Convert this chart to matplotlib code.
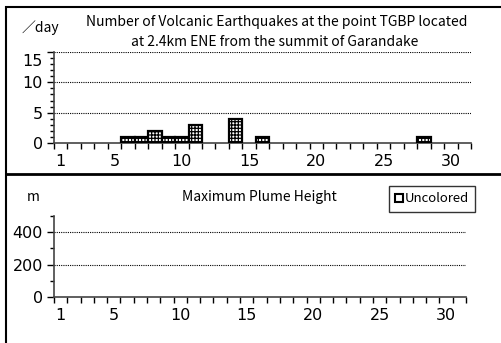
import numpy as np
import matplotlib.pyplot as plt
import matplotlib.transforms as mtransforms
from matplotlib.patches import Rectangle
from matplotlib.lines import Line2D

plt.rcParams['font.family'] = ['DejaVu Sans']
plt.rcParams['hatch.linewidth'] = 0.9
JP = ['Noto Sans CJK JP', 'DejaVu Sans']

# data
days = np.arange(1, 32)
quake_days = [6, 7, 8, 9, 10, 11, 14, 16, 28]
quake_counts = [1, 1, 2, 1, 1, 3, 4, 1, 1]
plume_days = []
plume_heights = []
xtick_labels = [1, 5, 10, 15, 20, 25, 30]

W, H = 501, 343
fig = plt.figure(figsize=(W / 100, H / 100), dpi=100)


def px_axes(x0, y_top, x1, y_bot):
    return fig.add_axes([x0 / W, 1 - y_bot / H, (x1 - x0) / W, (y_bot - y_top) / H])


def style_axes(ax, ymax, major, minor):
    ax.set_xlim(0.5, 31.5)
    ax.set_ylim(0, ymax)
    ax.set_xticks(xtick_labels)
    ax.set_xticks(np.arange(0.5, 32, 1), minor=True)
    ax.set_yticks(np.arange(0, ymax + 1, major))
    ax.set_yticks(np.arange(0, ymax + 1, minor), minor=True)
    ax.tick_params(axis='both', which='major', labelsize=11.5)
    ax.tick_params(axis='x', which='major', length=0, pad=8)
    ax.tick_params(axis='x', which='minor', length=4, width=1, direction='out')
    ax.tick_params(axis='y', which='major', length=5, width=1, pad=3)
    ax.tick_params(axis='y', which='minor', length=3, width=1)
    for s in ['top', 'right']:
        ax.spines[s].set_visible(False)
    for s in ['left', 'bottom']:
        ax.spines[s].set_color('#444444')
        ax.spines[s].set_linewidth(1.2)
    ax.set_facecolor('none')


# top panel
ax1 = px_axes(54, 52, 471, 143)
style_axes(ax1, 15, 5, 1)
for g in [5, 10, 15]:
    ax1.axhline(g, color='black', linestyle=(0, (1, 1)), linewidth=0.8, zorder=0)
ax1.bar(quake_days, quake_counts, width=1.0, color='white', edgecolor='black',
        hatch='+++++', linewidth=1.6, zorder=3)
for lbl in ax1.get_yticklabels():
    if lbl.get_text() == '15':
        lbl.set_transform(lbl.get_transform() +
                          mtransforms.ScaledTranslation(0, -0.08, fig.dpi_scale_trans))
fig.text(40 / W, 1 - 28 / H, '／day', ha='center', va='center', fontsize=10, family=JP)
fig.text(277 / W, 1 - 22 / H, 'Number of Volcanic Earthquakes at the point TGBP located',
         ha='center', va='center', fontsize=10, family=JP)
fig.text(275 / W, 1 - 42 / H, 'at 2.4km ENE from the summit of Garandake',
         ha='center', va='center', fontsize=10, family=JP)

# bottom panel
ax2 = px_axes(54, 216, 466, 297)
style_axes(ax2, 500, 200, 100)
for g in [200, 400]:
    ax2.axhline(g, color='black', linestyle=(0, (1, 1)), linewidth=0.8, zorder=0)
ax2.bar(plume_days, plume_heights, width=0.6, color='white', edgecolor='black')
fig.text(33 / W, 1 - 197 / H, 'm', ha='center', va='center', fontsize=10, family=JP)
fig.text(259 / W, 1 - 197 / H, 'Maximum Plume Height', ha='center', va='center',
         fontsize=10, family=JP)
handle = Line2D([], [], marker='s', linestyle='none', markerfacecolor='white',
                markeredgecolor='black', markeredgewidth=1.5, markersize=6)
leg = fig.legend([handle], ['Uncolored'], loc='center', bbox_to_anchor=(432 / W, 1 - 199 / H),
                 frameon=True, fancybox=False, edgecolor='black',
                 prop={'family': JP, 'size': 9.5},
                 handlelength=0.6, handletextpad=0.1, borderpad=0.5, borderaxespad=0)
leg.get_frame().set_linewidth(1.0)

# outer frame and separator
fig.add_artist(Rectangle((6 / W, -0.01), 1.0, 1 - 7 / H + 0.01, transform=fig.transFigure,
                         fill=False, edgecolor='black', linewidth=1.5))
fig.add_artist(Line2D([6 / W, 1], [1 - 174 / H, 1 - 174 / H], transform=fig.transFigure,
                      color='black', linewidth=2))

fig.savefig('out.png', dpi=100)
